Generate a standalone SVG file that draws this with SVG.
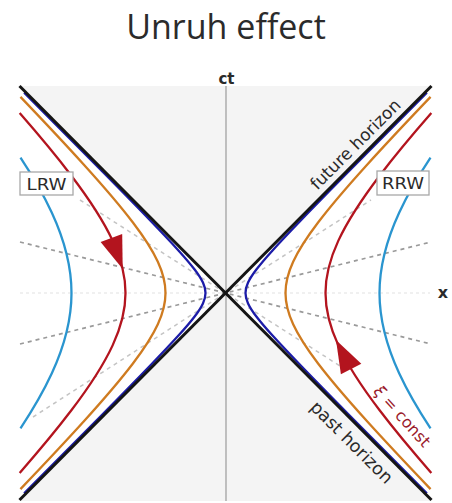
<svg xmlns="http://www.w3.org/2000/svg" width="452" height="503" viewBox="0 0 452 503">
<style>
.hz{fill:none;stroke:#151515;stroke-width:3}
.cv{fill:none;stroke-width:2.3;stroke-linejoin:round}
.dsh{fill:none;stroke:#9a9a9a;stroke-width:1.7;stroke-dasharray:4 4}
.dsl{fill:none;stroke:#c4c4c4;stroke-width:1.5;stroke-dasharray:4 4}
.lbl{font-family:"DejaVu Sans",sans-serif;fill:#2a2a2a}
.box{fill:#fff;stroke:#a8a8a8;stroke-width:1.3}
</style>
<defs>
<path id="hBlue" d="M201.35,200.36 Q152.28,151.04 122.65,121.00 Q93.01,90.97 75.24,72.54 Q57.48,54.11 47.05,42.59 Q36.62,31.06 30.86,23.50 Q25.11,15.95 22.55,10.42 Q20,4.90 20,0 Q20,-4.90 22.55,-10.42 Q25.11,-15.95 30.86,-23.50 Q36.62,-31.06 47.05,-42.59 Q57.48,-54.11 75.24,-72.54 Q93.01,-90.97 122.65,-121.00 Q152.28,-151.04 201.35,-200.36"/>
<path id="hOrange" d="M205.06,196.09 Q166.36,155.61 141.14,127.76 Q109.86,93.19 92.58,70.51 Q75.32,47.84 67.66,31.27 Q60,14.70 60,0 Q60,-14.70 67.66,-31.27 Q75.32,-47.84 92.58,-70.51 Q109.86,-93.19 141.14,-127.76 Q166.36,-155.61 205.06,-196.09"/>
<path id="hRed" d="M205.83,179.91 Q174.66,144.25 154.31,117.52 Q125.53,79.73 112.76,52.11 Q100,24.49 100,0 Q100,-24.49 112.76,-52.11 Q125.53,-79.73 154.31,-117.52 Q174.66,-144.25 205.83,-179.91"/>
<path id="hCyan" d="M205.01,135.33 Q185.33,105.51 173.65,80.25 Q154,37.72 154,0 Q154,-37.72 173.65,-80.25 Q185.33,-105.51 205.01,-135.33"/>
</defs>
<rect width="452" height="503" fill="#fff"/>
<text x="226" y="39" text-anchor="middle" style="font-family:'Open Sans',sans-serif;font-size:34px;fill:#2b2b2b">Unruh effect</text>
<g id="regions">
<polygon points="19.5,86 431.5,86 225.5,293" fill="#f4f4f4"/>
<polygon points="19.5,501 431.5,501 225.5,293" fill="#f4f4f4"/>
</g>
<g id="axes">
<line x1="226" y1="86" x2="226" y2="501" stroke="#9a9a9a" stroke-width="1.2"/>
<line x1="20" y1="293" x2="430" y2="293" stroke="#e2e2e2" stroke-width="1.2" stroke-dasharray="3 3"/>
<text x="226.5" y="84" text-anchor="middle" class="lbl" style="font-size:15px;font-weight:bold">ct</text>
<text x="443" y="298" text-anchor="middle" class="lbl" style="font-size:16px;font-weight:bold">x</text>
</g>
<g id="connectors">
<polyline class="dsh" points="20,242 225.5,293 431,242"/>
<polyline class="dsh" points="20,344 225.5,293 431,344"/>
<polyline class="dsl" points="80,200 225.5,293 371,200"/>
<polyline class="dsl" points="33,417 225.5,293 340,366"/>
<g transform="translate(225.5,293)">
<use href="#hCyan" class="cv" stroke="#2a95cf"/>
<use href="#hRed" class="cv" stroke="#b3141e"/>
<use href="#hOrange" class="cv" stroke="#cf7b20"/>
<use href="#hBlue" class="cv" stroke="#1c1ca8"/>
<g transform="scale(-1,1)">
<use href="#hCyan" class="cv" stroke="#2a95cf"/>
<use href="#hRed" class="cv" stroke="#b3141e"/>
<use href="#hOrange" class="cv" stroke="#cf7b20"/>
<use href="#hBlue" class="cv" stroke="#1c1ca8"/>
</g>
</g>
<line class="hz" x1="19.5" y1="86" x2="431.5" y2="500"/>
<line class="hz" x1="19.5" y1="500" x2="431.5" y2="86"/>
<polygon points="122.7,269 122.2,234.1 100.6,241.9" fill="#b3141e"/>
<polygon points="336,340 361.3,363.7 340.9,374.3" fill="#b3141e"/>
</g>
<g id="horizon-labels">
<text transform="translate(359.5,148.5) rotate(-45)" text-anchor="middle" class="lbl" style="font-size:17px">future horizon</text>
<text transform="translate(347.5,446.5) rotate(45)" text-anchor="middle" class="lbl" style="font-size:17.5px">past horizon</text>
<text transform="translate(398,420) rotate(48)" text-anchor="middle" style="font-family:'DejaVu Sans',sans-serif;font-size:16px;fill:#9a1a2a"><tspan font-style="italic">ξ</tspan> = const</text>
</g>
<g id="LRW">
<rect class="box" x="20" y="172" width="53" height="23"/>
<text x="46.5" y="189.5" text-anchor="middle" class="lbl" style="font-size:16px" textLength="40" lengthAdjust="spacingAndGlyphs">LRW</text>
</g>
<g id="RRW">
<rect class="box" x="377" y="171" width="52" height="24"/>
<text x="403" y="189" text-anchor="middle" class="lbl" style="font-size:16px" textLength="42" lengthAdjust="spacingAndGlyphs">RRW</text>
</g>
</svg>
